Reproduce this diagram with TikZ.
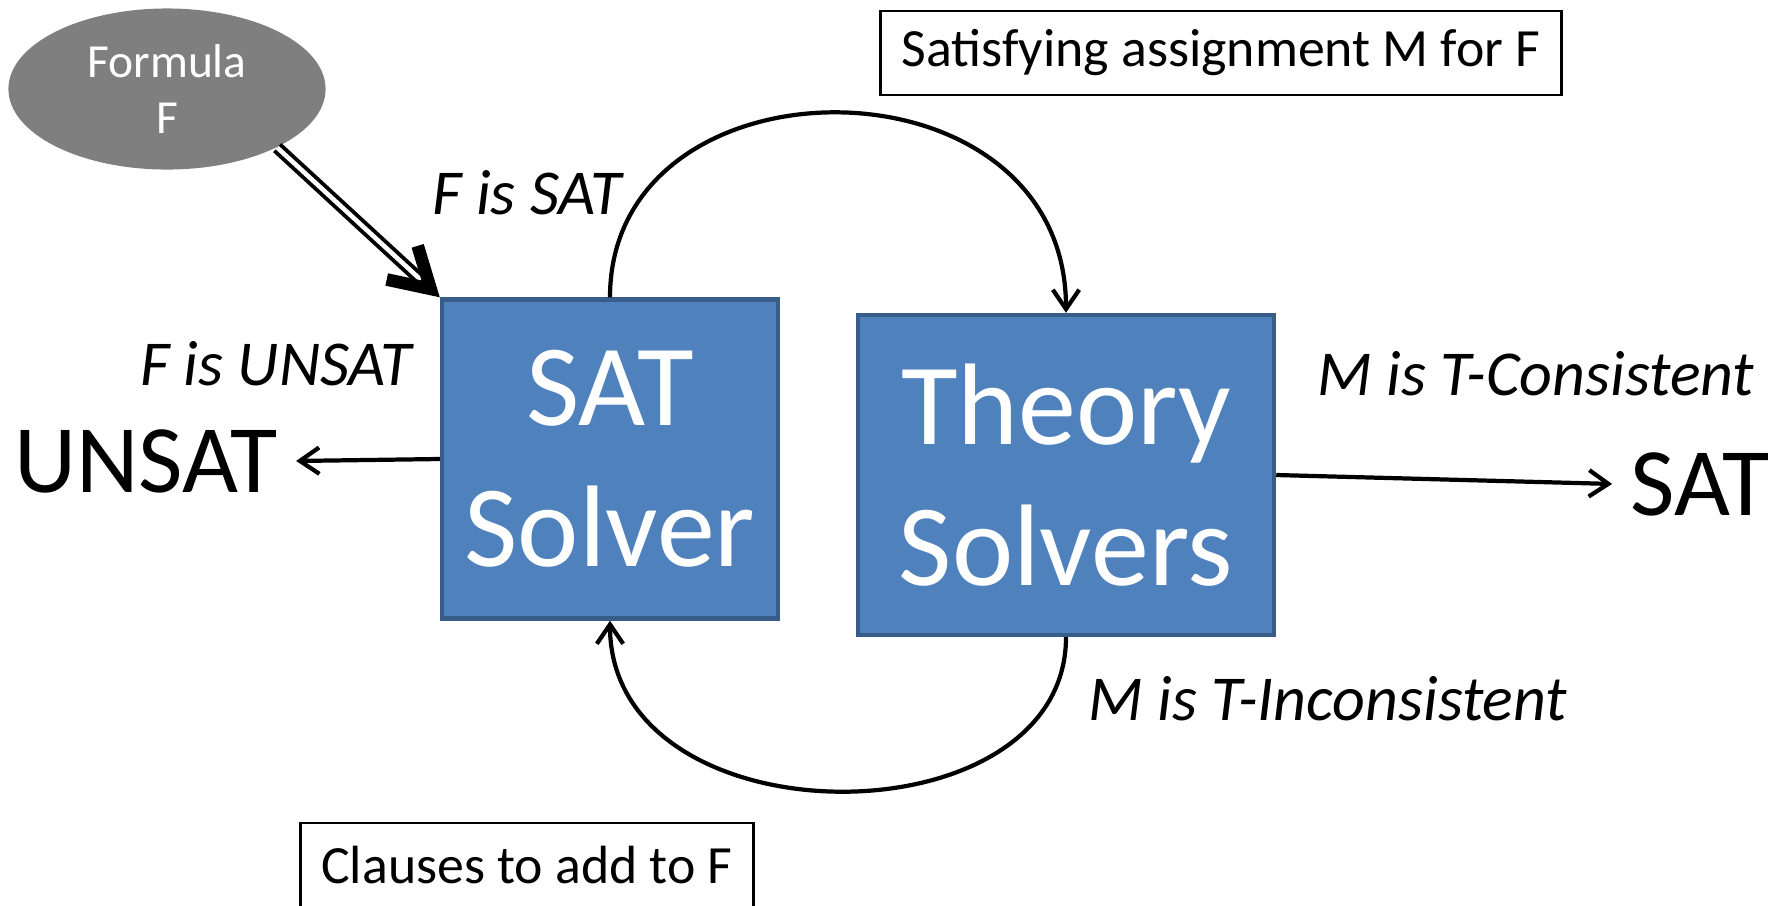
\documentclass[tikz,border=0pt]{standalone}
\usepackage{fontspec}
\setmainfont{Carlito}
\usetikzlibrary{shapes.geometric,arrows.meta}
\definecolor{boxblue}{HTML}{4F81BD}
\definecolor{boxedge}{HTML}{385D8A}
\definecolor{formgray}{HTML}{7F7F7F}
\begin{document}
\begin{tikzpicture}[x=0.01cm,y=-0.01cm,
  solver/.style={rectangle,draw=boxedge,fill=boxblue,line width=1.2pt,text=white,align=center,inner sep=0pt,font=\fontsize{33}{40}\selectfont},
  note/.style={rectangle,draw,line width=0.8pt,minimum height=0.84cm,font=\fontsize{15.3}{18}\selectfont},
  lbl/.style={anchor=base,inner sep=0pt,font=\fontsize{18.2}{22}\selectfont\itshape},
  result/.style={anchor=base,inner sep=5pt,font=\fontsize{27.5}{33}\selectfont},
  flow/.style={line width=1.2pt,-{Straight Barb[length=5.5pt,width=7.5pt]}}]
\useasboundingbox (0,0) rectangle (1787,905);
\node[ellipse,fill=formgray,minimum width=3.17cm,minimum height=1.61cm,inner sep=0pt,text=white,align=center,font=\fontsize{13.5}{16}\selectfont] (formula) at (167,89) {Formula\\F};
\node[solver,minimum width=3.36cm,minimum height=3.19cm] (sat) at (610,459) {SAT\\Solver};
\node[solver,minimum width=4.16cm,minimum height=3.2cm] (theory) at (1066,475) {Theory\\Solvers};
\node[note,minimum width=6.8cm] (assign) at (1221,53) {Satisfying assignment M for F};
\node[note,minimum width=4.52cm] (clauses) at (527,865) {Clauses to add to F};
\node[result] (unsat) at (146,492) {UNSAT};
\node[result] (satout) at (1700,515) {SAT};
\node[lbl] (fsat) at (527,214) {F is SAT};
\node[lbl] (funsat) at (276,385) {F is UNSAT};
\node[lbl] (mcons) at (1536,395) {M is T-Consistent};
\node[lbl] (mincons) at (1328,720) {M is T-Inconsistent};
\draw[double,double distance=1.3pt,line width=1.1pt,-{Straight Barb[length=11pt,width=13pt,line width=3.6pt]}] (formula.-28) -- (sat.north west);
\draw[flow] (sat.north) .. controls +(0,-248) and +(0,-264) .. (theory.north);
\draw[flow] (theory.south) .. controls +(0,208) and +(0,224) .. (sat.south);
\draw[flow] (sat.west) -- (unsat.east);
\draw[flow] (theory.east) -- (satout.west);
\end{tikzpicture}
\end{document}
